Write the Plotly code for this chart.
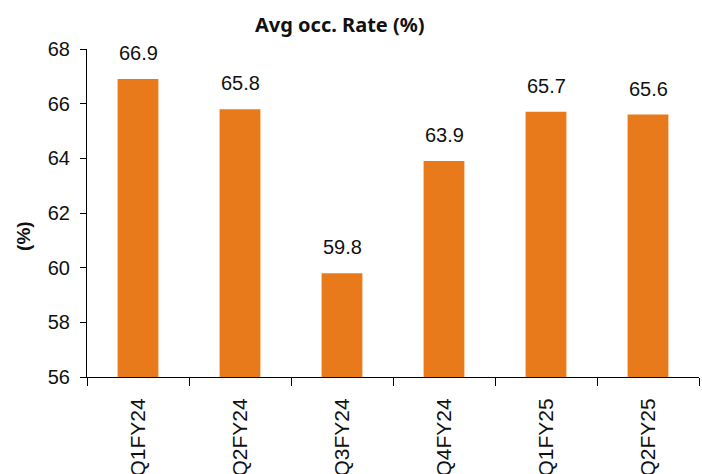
import plotly.graph_objects as go

quarters = ["Q1FY24", "Q2FY24", "Q3FY24", "Q4FY24", "Q1FY25", "Q2FY25"]
occupancy = [66.9, 65.8, 59.8, 63.9, 65.7, 65.6]

bar_color = "#E87A1B"
tick_font = dict(family="Liberation Sans, Arial, sans-serif", size=20, color="#111111")
xtick_font = dict(family="Liberation Sans, Arial, sans-serif", size=21, color="#111111")

fig = go.Figure(
    go.Bar(
        x=quarters,
        y=occupancy,
        marker=dict(color=bar_color, line=dict(width=0)),
        hoverinfo="x+y",
    )
)

# value labels above each bar
for q, v in zip(quarters, occupancy):
    fig.add_annotation(
        x=q, y=v, text=f"{v:.1f}", showarrow=False,
        yanchor="bottom", yshift=13,
        font=tick_font,
    )

# rotated y-axis title
fig.add_annotation(
    xref="paper", yref="paper", x=-0.103, y=0.43,
    text="<b>(%)</b>", textangle=-90, showarrow=False,
    xanchor="center", yanchor="middle",
    font=dict(family="Liberation Sans, Arial, sans-serif", size=19, color="#111111"),
)

fig.update_layout(
    width=702, height=474,
    margin=dict(l=87, r=3, t=49, b=97, autoexpand=False),
    paper_bgcolor="white", plot_bgcolor="white",
    bargap=0.6,
    showlegend=False,
    title=dict(
        text="<b>Avg occ. Rate (%)</b>",
        x=0.484, xanchor="center", y=0.948, yanchor="middle",
        font=dict(family="Noto Sans, sans-serif", size=20, color="#111111"),
    ),
    xaxis=dict(
        type="category",
        showline=True, linecolor="#000000", linewidth=1,
        ticks="outside", tickson="boundaries", ticklen=8, tickcolor="#000000",
        tickangle=-90, tickfont=xtick_font, ticklabelstandoff=12,
        showgrid=False, automargin=False,
    ),
    yaxis=dict(
        range=[56, 68], dtick=2, tick0=56,
        showline=True, linecolor="#000000", linewidth=1,
        ticks="outside", ticklen=6, tickcolor="#000000",
        ticklabelstandoff=6,
        tickfont=tick_font, showgrid=False, zeroline=False,
        automargin=False,
    ),
)

fig.write_html("out.html")
